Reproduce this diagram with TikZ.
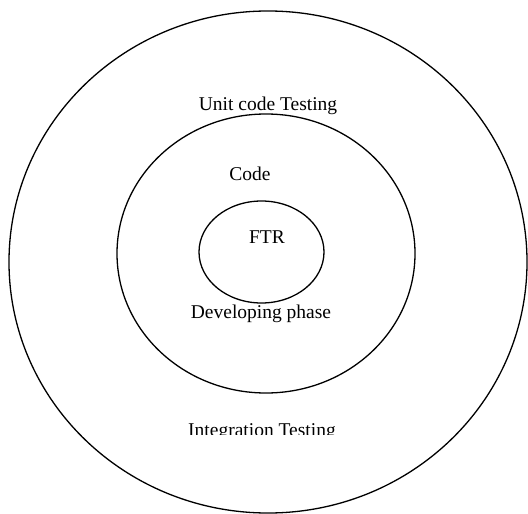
\documentclass[tikz,border=0pt]{standalone}
\usepackage{fontspec}
\setmainfont{Liberation Serif}
\begin{document}
\begin{tikzpicture}[x=1bp,y=-1bp,
  ring/.style={draw=black,line width=1.3bp},
  lbl/.style={anchor=base,inner sep=0pt,font=\fontsize{19.5bp}{23bp}\selectfont}]
\useasboundingbox (0,0) rectangle (528,514);
\draw[ring] (268,262) ellipse [x radius=259bp, y radius=251bp];
\draw[ring] (266,253.5) ellipse [x radius=149bp, y radius=139.5bp];
\draw[ring] (261.5,252) ellipse [x radius=62.5bp, y radius=51bp];
\node[lbl] (unit) at (268,111) {Unit code Testing};
\node[lbl] (code) at (250,181) {Code};
\node[lbl] (ftr) at (267,243) {FTR};
\node[lbl] (dev) at (261,318) {Developing phase};
\begin{scope}
\clip (150,400) rectangle (380,434);
\node[lbl] (integ) at (262,436) {Integration Testing};
\end{scope}
\end{tikzpicture}
\end{document}
